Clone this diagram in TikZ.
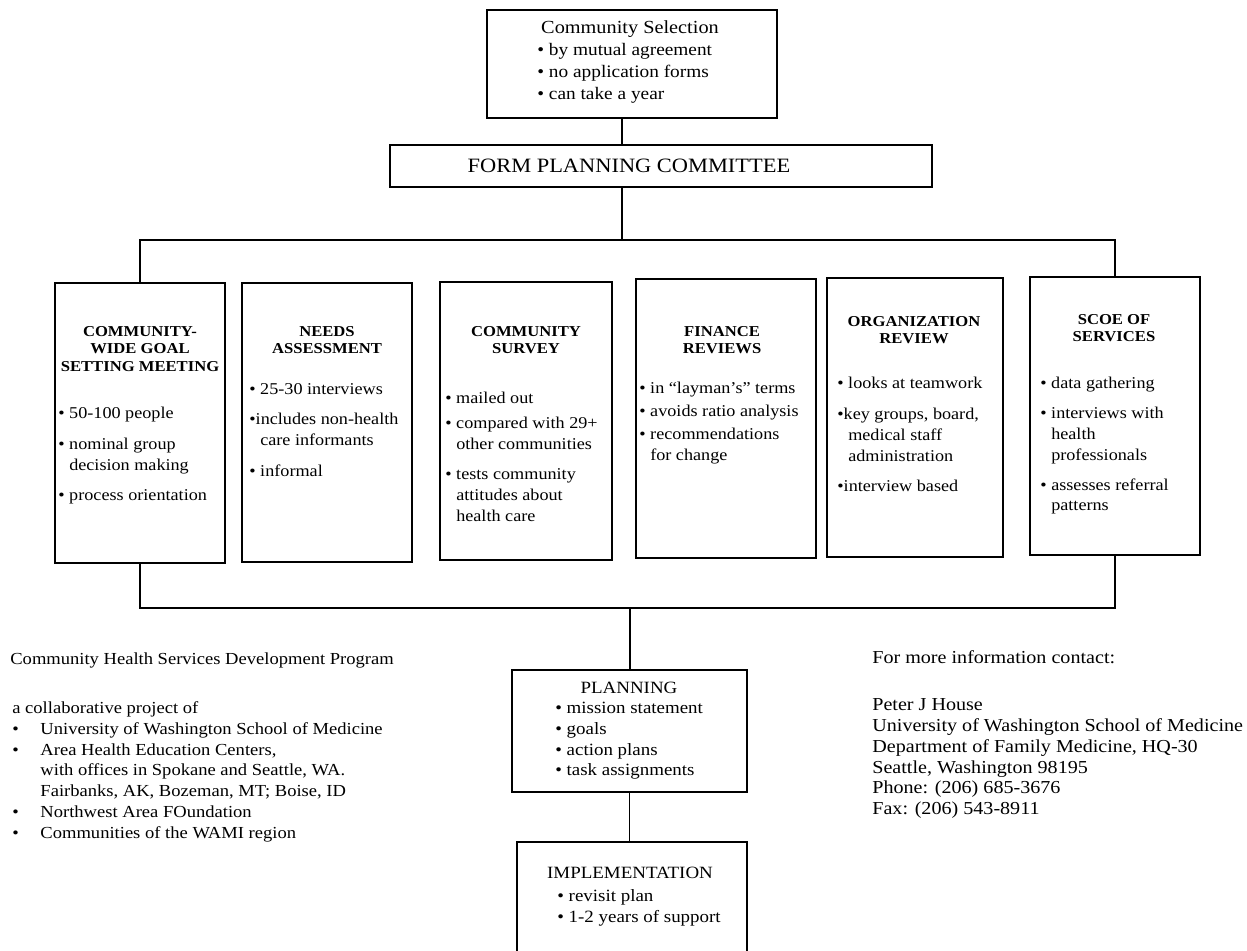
\documentclass[tikz,border=0pt]{standalone}
\usepackage{fontspec}
\setmainfont{Liberation Serif}[FakeStretch=1.1]
\usetikzlibrary{positioning,fit}
\newcommand\lbul{\makebox[16pt][l]{\textbullet}}
\begin{document}
\begin{tikzpicture}[x=0.02cm,y=-0.02cm,
    box/.style={draw,line width=0.8pt,inner sep=0pt},
    link/.style={line width=0.8pt},
    head/.style={inner sep=0pt,align=center,font=\fontsize{8.6}{10}\selectfont\bfseries},
    list/.style={inner sep=0pt,align=left,font=\fontsize{9.4}{11.9}\selectfont},
    big/.style={inner sep=0pt,align=left,font=\fontsize{10}{12.5}\selectfont},
    note/.style={inner sep=0pt,align=left,font=\fontsize{9.6}{11.9}\selectfont}]
\useasboundingbox (0,0) rectangle (1247,950);
% top of the chart
\node[box,fit={(487,10) (777,118)}] (select) {};
\node[big,anchor=north,font=\fontsize{10.5}{12.5}\selectfont] (selecthead) at (630,20) {Community Selection};
\node[big,anchor=north west] (selectlist) at (537,43) {\textbullet\ by mutual agreement\\ \textbullet\ no application forms\\ \textbullet\ can take a year};
\node[box,fit={(390,145) (932,187)}] (form) {};
\node[big,anchor=center,font=\fontsize{11.6}{13}\selectfont] (formtext) at (629,166) {FORM PLANNING COMMITTEE};
% the six studies
\node[box,fit={(55,283) (225,563)}] (goal) {};
\node[head,anchor=north] (goalhead) at (140,326) {COMMUNITY-\\WIDE GOAL\\SETTING MEETING};
\node[list,anchor=north west] (goallist) at (58,407) {\textbullet\ 50-100 people\\[5.5pt] \textbullet\ nominal group\\ \hphantom{\textbullet\ }decision making\\[5.5pt] \textbullet\ process orientation};
\node[box,fit={(242,283) (412,562)}] (needs) {};
\node[head,anchor=north] (needshead) at (327,326) {NEEDS\\ASSESSMENT};
\node[list,anchor=north west] (needslist) at (249,383) {\textbullet\ 25-30 interviews\\[5.5pt] \textbullet includes non-health\\ \hphantom{\textbullet\ }care informants\\[5.5pt] \textbullet\ informal};
\node[box,fit={(440,282) (612,560)}] (survey) {};
\node[head,anchor=north] (surveyhead) at (526,326) {COMMUNITY\\SURVEY};
\node[list,anchor=north west] (surveylist) at (445,392) {\textbullet\ mailed out\\[2pt] \textbullet\ compared with 29+\\ \hphantom{\textbullet\ }other communities\\[5.5pt] \textbullet\ tests community\\ \hphantom{\textbullet\ }attitudes about\\ \hphantom{\textbullet\ }health care};
\node[box,fit={(636,279) (816,558)}] (finance) {};
\node[head,anchor=north] (financehead) at (722,326) {FINANCE\\REVIEWS};
\node[list,anchor=north west] (financelist) at (639,382) {\textbullet\ in ``layman's'' terms\\[1pt] \textbullet\ avoids ratio analysis\\[1pt] \textbullet\ recommendations\\ \hphantom{\textbullet\ }for change};
\node[box,fit={(827,278) (1003,557)}] (org) {};
\node[head,anchor=north] (orghead) at (914,316) {ORGANIZATION\\REVIEW};
\node[list,anchor=north west] (orglist) at (837,377) {\textbullet\ looks at teamwork\\[5.5pt] \textbullet key groups, board,\\ \hphantom{\textbullet\ }medical staff\\ \hphantom{\textbullet\ }administration\\[5.5pt] \textbullet interview based};
\node[box,fit={(1030,277) (1200,555)}] (scope) {};
\node[head,anchor=north] (scopehead) at (1114,314) {SCOE OF\\SERVICES};
\node[list,anchor=north west] (scopelist) at (1040,377) {\textbullet\ data gathering\\[5pt] \textbullet\ interviews with\\ \hphantom{\textbullet\ }health\\ \hphantom{\textbullet\ }professionals\\[5pt] \textbullet\ assesses referral\\ \hphantom{\textbullet\ }patterns};
% planning and implementation
\node[box,fit={(512,670) (747,792)}] (plan) {};
\node[big,anchor=north,font=\fontsize{9.8}{11.8}\selectfont] (planhead) at (629,682) {PLANNING};
\node[big,anchor=north west,font=\fontsize{9.8}{11.8}\selectfont] (planlist) at (555,702) {\textbullet\ mission statement\\ \textbullet\ goals\\ \textbullet\ action plans\\ \textbullet\ task assignments};
\node[box,fit={(517,842) (747,956)}] (impl) {};
\node[big,anchor=north,font=\fontsize{9.8}{11.8}\selectfont] (implhead) at (630,867) {IMPLEMENTATION};
\node[big,anchor=north west,font=\fontsize{9.8}{11.8}\selectfont] (impllist) at (557,889) {\textbullet\ revisit plan\\ \textbullet\ 1-2 years of support};
% connectors
\coordinate (bustop) at (622,240);
\coordinate (busbot) at (630,608);
\draw[link] (select.south -| bustop) -- (form.north -| bustop);
\draw[link] (form.south -| bustop) -- (bustop);
\draw[link] (goal.north) |- (bustop) -| (scope.north);
\draw[link] (goal.south) |- (busbot) -| (scope.south);
\draw[link] (busbot) -- (plan.north -| busbot);
\draw[link] (plan.south) -- (impl.north -| plan.south);
% side notes
\node[note,anchor=north west] (program) at (10,652) {Community Health Services Development Program};
\node[note,anchor=north west] (partners) at (12,701) {a collaborative project of\\ \lbul University of Washington School of Medicine\\ \lbul Area Health Education Centers,\\ \hspace*{16pt}with offices in Spokane and Seattle, WA.\\ \hspace*{16pt}Fairbanks, AK, Bozeman, MT; Boise, ID\\ \lbul Northwest Area FOundation\\ \lbul Communities of the WAMI region};
\node[note,anchor=north west,font=\fontsize{10.4}{11.9}\selectfont] (contact) at (872,650) {For more information contact:};
\node[note,anchor=north west,font=\fontsize{10.4}{11.9}\selectfont] (address) at (872,698) {Peter J House\\ University of Washington School of Medicine\\ Department of Family Medicine, HQ-30\\ Seattle, Washington 98195\\ Phone: (206) 685-3676\\ Fax: (206) 543-8911};
\end{tikzpicture}
\end{document}
